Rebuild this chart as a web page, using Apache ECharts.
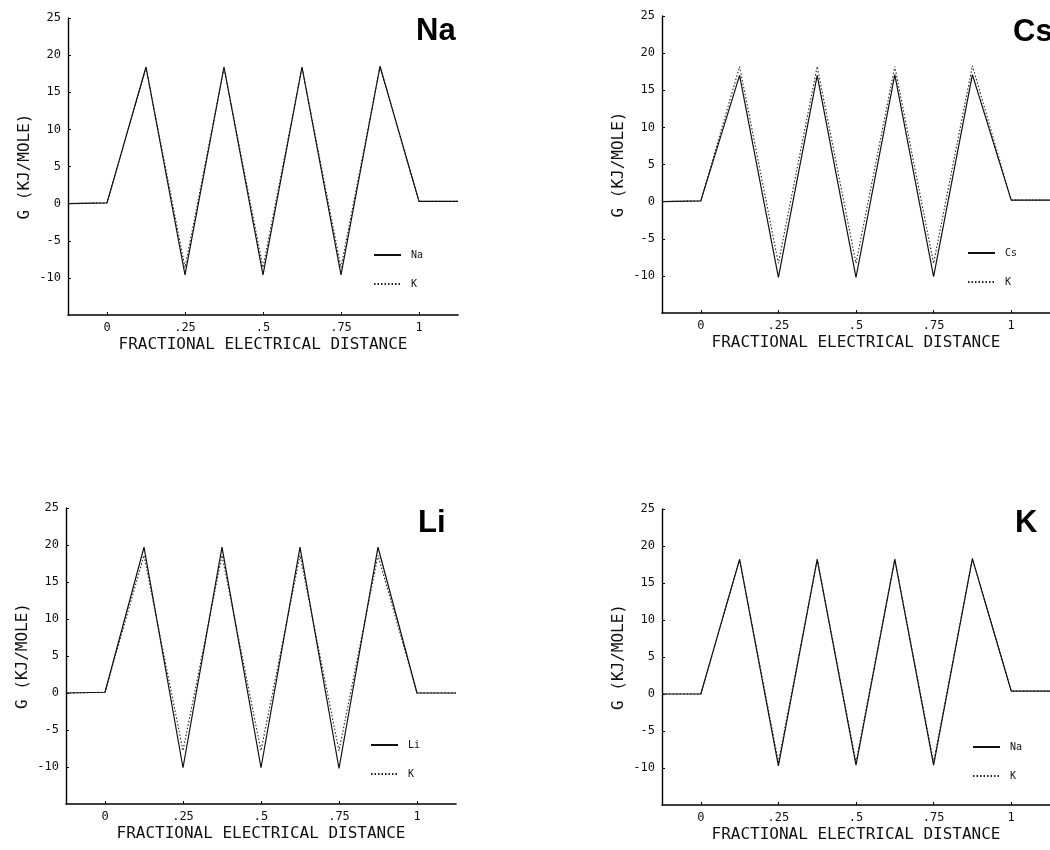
<!DOCTYPE html>
<html>
<head>
<meta charset="utf-8">
<script src="https://cdn.jsdelivr.net/npm/echarts@6/dist/echarts.min.js"></script>
<style>html,body{margin:0;padding:0;background:#fff}#c{width:1050px;height:850px}</style>
</head>
<body>
<div id="c"></div>
<script>
// ---- data ----
var xPositions = [-0.125, 0, 0.125, 0.25, 0.375, 0.5, 0.625, 0.75, 0.875, 1, 1.125];
var xTickValues = [0, 0.25, 0.5, 0.75, 1];
var xTickLabels = ['0', '.25', '.5', '.75', '1'];
var yTickValues = [-10, -5, 0, 5, 10, 15, 20, 25];

var panelTitles = ['Na', 'Cs', 'Li', 'K'];
var solidNames = ['Na', 'Cs', 'Li', 'Na'];
var dottedNames = ['K', 'K', 'K', 'K'];

var naPanelNa = [0, 0.1, 18.4, -9.6, 18.4, -9.6, 18.4, -9.6, 18.5, 0.3, 0.3];
var naPanelK  = [0, 0.1, 18.3, -8.6, 18.3, -8.6, 18.3, -8.6, 18.4, 0.3, 0.3];
var csPanelCs = [0, 0.1, 17.0, -10.2, 17.0, -10.2, 17.1, -10.1, 17.1, 0.2, 0.2];
var csPanelK  = [0, 0.1, 18.2, -8.3, 18.2, -8.3, 18.2, -8.3, 18.3, 0.2, 0.2];
var liPanelLi = [0, 0.1, 19.7, -10.1, 19.7, -10.1, 19.7, -10.2, 19.7, 0, 0];
var liPanelK  = [0, 0.1, 18.6, -7.8, 18.6, -7.8, 18.6, -7.8, 18.6, 0, 0];
var kPanelNa  = [0, 0, 18.2, -9.7, 18.2, -9.6, 18.2, -9.6, 18.3, 0.4, 0.4];
var kPanelK   = [0, 0, 18.2, -9.2, 18.2, -9.2, 18.2, -9.2, 18.3, 0.4, 0.4];

var solidData = [naPanelNa, csPanelCs, liPanelLi, kPanelNa];
var dottedData = [naPanelK, csPanelK, liPanelK, kPanelK];

// ---- layout ----
var grids = [
  {left: 68, top: 18, width: 390, height: 297},
  {left: 662, top: 16, width: 390, height: 297},
  {left: 66, top: 508, width: 390, height: 296},
  {left: 662, top: 509, width: 390, height: 296}
];
var titlePos = [[416, 16], [1013, 17], [418, 508], [1015, 508]];
var legendPos = [[373, 250], [967, 248], [370, 740], [972, 742]];

var mono = 'DejaVu Sans Mono';
function pair(x, arr) { return x.map(function (v, i) { return [v, arr[i]]; }); }

var option = {
  backgroundColor: '#fff',
  animation: false,
  title: [], grid: [], xAxis: [], yAxis: [], series: [], legend: []
};

for (var i = 0; i < 4; i++) {
  option.grid.push(Object.assign({containLabel: false}, grids[i]));
  option.title.push({
    text: panelTitles[i], left: titlePos[i][0], top: titlePos[i][1], padding: 0,
    textStyle: {fontFamily: 'Liberation Sans', fontWeight: 'bold', fontSize: 31, color: '#000'}
  });
  option.xAxis.push({
    type: 'value', gridIndex: i, min: -0.125, max: 1.125,
    name: 'FRACTIONAL ELECTRICAL DISTANCE', nameLocation: 'middle', nameGap: 22,
    nameTextStyle: {fontFamily: mono, fontSize: 16, color: '#111'},
    axisLine: {show: true, onZero: false, lineStyle: {color: '#000', width: 1.6}},
    axisTick: {show: true, inside: true, length: 3, customValues: xTickValues, lineStyle: {color: '#000'}},
    axisLabel: {
      customValues: xTickValues, margin: 7, color: '#111', fontFamily: mono, fontSize: 12,
      formatter: function (v) { var k = xTickValues.indexOf(v); return k >= 0 ? xTickLabels[k] : ''; }
    },
    splitLine: {show: false}
  });
  option.yAxis.push({
    type: 'value', gridIndex: i, min: -15, max: 25,
    name: 'G (KJ/MOLE)', nameLocation: 'middle', nameGap: 35, nameRotate: 90,
    nameTextStyle: {fontFamily: mono, fontSize: 16, color: '#111'},
    axisLine: {show: true, onZero: false, lineStyle: {color: '#000', width: 1.4}},
    axisTick: {show: true, inside: true, length: 3, customValues: yTickValues, lineStyle: {color: '#000'}},
    axisLabel: {customValues: yTickValues, margin: 7, color: '#111', fontFamily: mono, fontSize: 12},
    splitLine: {show: false}
  });
  option.series.push({
    name: solidNames[i], type: 'line', xAxisIndex: i, yAxisIndex: i,
    data: pair(xPositions, solidData[i]), symbol: 'none',
    itemStyle: {color: '#111'},
    lineStyle: {color: '#111', width: 1.2, type: 'solid'}, z: 3
  });
  option.series.push({
    name: dottedNames[i], type: 'line', xAxisIndex: i, yAxisIndex: i,
    data: pair(xPositions, dottedData[i]), symbol: 'none',
    itemStyle: {color: '#222'},
    lineStyle: {color: '#222', width: 1.1, type: [1.5, 2]}, z: 2
  });
  option.legend.push({
    data: [solidNames[i], dottedNames[i]],
    orient: 'vertical',
    left: legendPos[i][0], top: legendPos[i][1], padding: 0,
    itemWidth: 27, itemHeight: 10, itemGap: 19, selectedMode: false,
    itemStyle: {opacity: 0},
    textStyle: {fontFamily: mono, fontSize: 10, color: '#111', padding: [0, 0, 0, 5]}
  });
}

var chart = echarts.init(document.getElementById('c'), null, {renderer: 'canvas'});
chart.setOption(option);
</script>
</body>
</html>
